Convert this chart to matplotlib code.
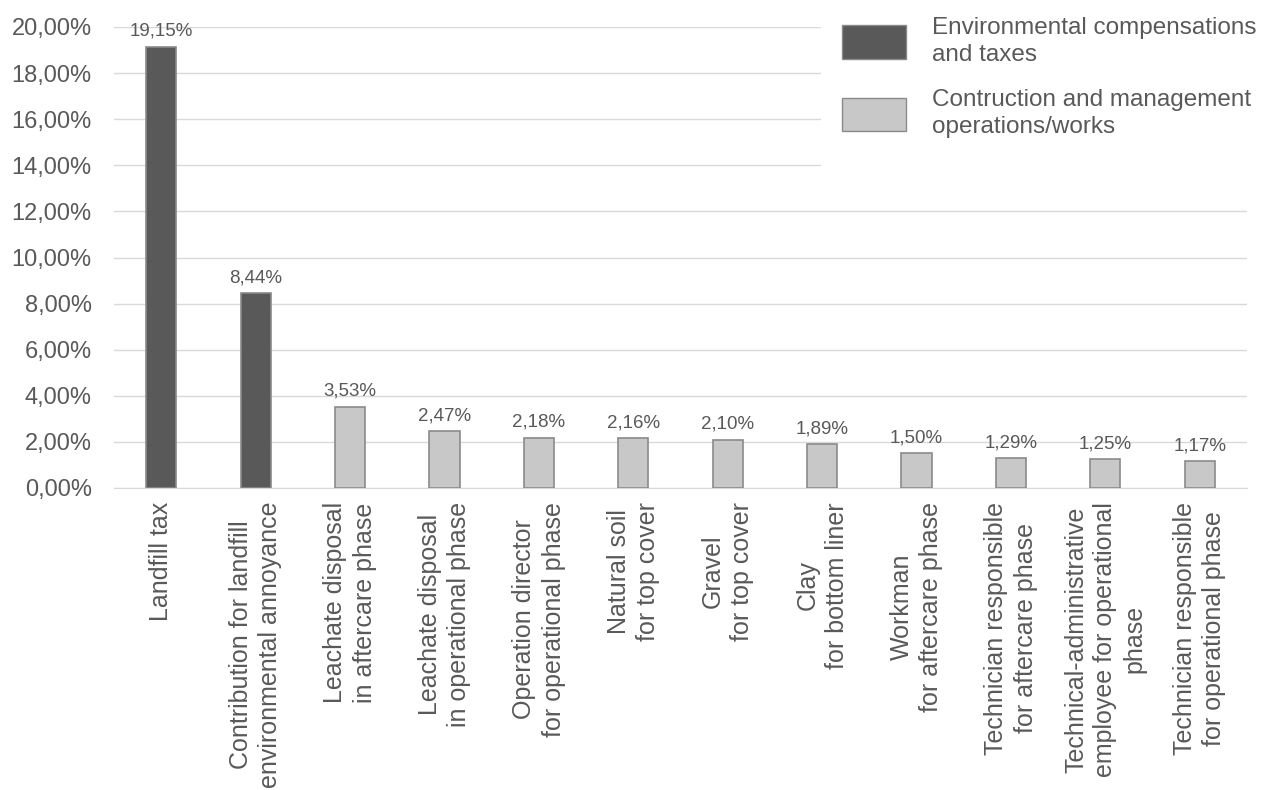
import matplotlib
matplotlib.use("Agg")
import matplotlib.pyplot as plt
from matplotlib.patches import Patch, Rectangle

plt.rcParams["font.family"] = ["Liberation Sans", "DejaVu Sans"]

categories = [
    "Landfill tax",
    "Contribution for landfill\nenvironmental annoyance",
    "Leachate disposal\nin aftercare phase",
    "Leachate disposal\nin operational phase",
    "Operation director\nfor operational phase",
    "Natural soil\nfor top cover",
    "Gravel\nfor top cover",
    "Clay\nfor bottom liner",
    "Workman\nfor aftercare phase",
    "Technician responsible\nfor aftercare phase",
    "Technical-administrative\nemployee for operational\nphase",
    "Technician responsible\nfor operational phase",
]
values = [19.15, 8.44, 3.53, 2.47, 2.18, 2.16, 2.10, 1.89, 1.50, 1.29, 1.25, 1.17]
groups = [0, 0, 1, 1, 1, 1, 1, 1, 1, 1, 1, 1]
group_names = ["Environmental compensations\nand taxes",
               "Contruction and management\noperations/works"]
yticks = [0, 2, 4, 6, 8, 10, 12, 14, 16, 18, 20]

fills = ["#595959", "#c8c8c8"]
edge = "#8a8a8a"
txt = "#595959"

fig = plt.figure(figsize=(12.63, 7.90), dpi=100)
ax = fig.add_axes([114/1263, 1-488/790, (1247-114)/1263, (488-27)/790])

x = list(range(len(values)))
ax.bar(x, values, width=0.32, color=[fills[g] for g in groups],
       edgecolor=edge, linewidth=1.2, zorder=3)
for xi, v in zip(x, values):
    ax.annotate(f"{v:.2f}%".replace(".", ","), (xi, v), textcoords="offset points",
                xytext=(0, 5), ha="center", va="bottom", fontsize=13.5, color=txt, zorder=4)

ax.set_xlim(-0.5, len(values) - 0.5)
ax.set_ylim(0, 20)
ax.set_yticks(yticks)
ax.set_yticklabels([f"{t:.2f}%".replace(".", ",") for t in yticks])
ax.set_xticks(x)
ax.set_xticklabels(categories, rotation=90, ha="center", va="top",
                   multialignment="center", linespacing=1.28)
ax.tick_params(axis="y", length=0, pad=16, labelsize=17, labelcolor=txt)
ax.tick_params(axis="x", length=0, pad=10, labelsize=18, labelcolor=txt)
ax.grid(axis="y", color="#d9d9d9", lw=1, zorder=0)
ax.set_axisbelow(True)
for s in ["top", "right", "left"]:
    ax.spines[s].set_visible(False)
ax.spines["bottom"].set_color("#d9d9d9")

# white box behind the legend hides the top gridlines
ax.add_patch(Rectangle((821/1263, 1-190/790), 1, 1, transform=fig.transFigure,
                       facecolor="white", edgecolor="none", zorder=1, clip_on=False))

handles = [Patch(facecolor=fills[i], edgecolor=edge, label=group_names[i]) for i in range(2)]
leg = fig.legend(handles=handles, loc="upper left", bbox_to_anchor=(842/1263, 1-17/790),
                 fontsize=17.5, frameon=False, borderpad=0, borderaxespad=0,
                 handlelength=2.65, handleheight=1.75, handletextpad=1.05, labelspacing=0.95)
for t in leg.get_texts():
    t.set_color(txt)
    t.set_linespacing(1.3)

fig.savefig("out.png", dpi=100)
